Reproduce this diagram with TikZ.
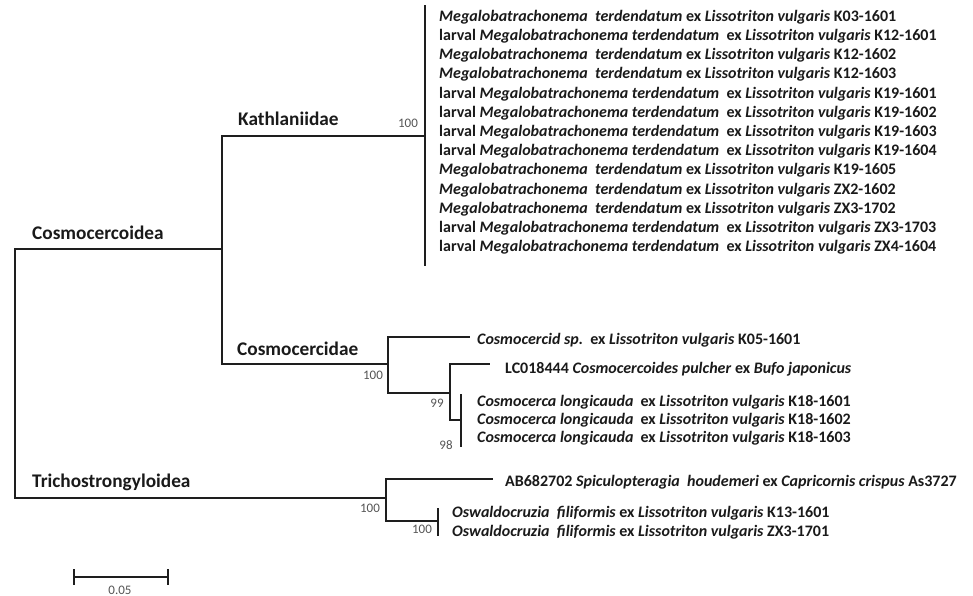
\documentclass[tikz,border=0pt]{standalone}
\usepackage{fontspec}
\setmainfont{Carlito}
\definecolor{linec}{HTML}{1E1E1E}
\definecolor{txtc}{HTML}{1A1A1A}
\definecolor{bootc}{HTML}{555555}
\newcommand\MegaLeaf[1]{\textit{Megalobatrachonema}\ \ \textit{terdendatum} ex \textit{Lissotriton vulgaris} #1}
\newcommand\LarvLeaf[1]{larval \textit{Megalobatrachonema} \textit{terdendatum}\ \ ex \textit{Lissotriton vulgaris} #1}
\newcommand\CosmoLeaf[1]{\textit{Cosmocerca longicauda}\ \ ex \textit{Lissotriton vulgaris} #1}
\newcommand\OswLeaf[1]{\textit{Oswaldocruzia}\ \ \textit{filiformis} ex \textit{Lissotriton vulgaris} #1}
\begin{document}
\begin{tikzpicture}[x=1pt,y=-1pt,
  br/.style={line width=1.8pt, draw=linec, line cap=rect},
  leaf/.style={anchor=west, inner sep=0pt, text=txtc, font=\fontsize{16}{19}\selectfont\bfseries},
  grp/.style={anchor=west, inner sep=0pt, text=txtc, font=\fontsize{19.3}{23}\selectfont\bfseries},
  boot/.style={inner sep=0pt, text=bootc, font=\fontsize{13}{15}\selectfont}]
\useasboundingbox (0,0) rectangle (973,596);
\fill[white] (0,0) rectangle (973,596);

% internal node coordinates
\coordinate (root) at (15,373);
\coordinate (cosmo) at (222,249);
\coordinate (kath) at (425,136);
\coordinate (kathT) at (425,6);
\coordinate (kathB) at (425,265);
\coordinate (cerc) at (388,364);
\coordinate (csp) at (469,337);
\coordinate (inner) at (450,393);
\coordinate (lc) at (489,364);
\coordinate (cl) at (461,420);
\coordinate (clT) at (461,395);
\coordinate (clB) at (461,446);
\coordinate (tricho) at (386,498);
\coordinate (ab) at (492,479);
\coordinate (osw) at (438,521);
\coordinate (oswT) at (438,509);
\coordinate (oswB) at (438,535);

% branches
\draw[br] (root) |- (cosmo);
\draw[br] (root) |- (tricho);
\draw[br] (cosmo) |- (kath);
\draw[br] (cosmo) |- (cerc);
\draw[br] (kathT) -- (kathB);
\draw[br] (cerc) |- (csp);
\draw[br] (cerc) |- (inner);
\draw[br] (inner) |- (lc);
\draw[br] (inner) |- (cl);
\draw[br] (clT) -- (clB);
\draw[br] (tricho) |- (ab);
\draw[br] (tricho) |- (osw);
\draw[br] (oswT) -- (oswB);

% group labels
\node[grp] (gCosmo) at (32,233) {Cosmocercoidea};
\node[grp] (gKath) at (238,119) {Kathlaniidae};
\node[grp] (gCerc) at (237,349) {Cosmocercidae};
\node[grp] (gTri) at (32,482) {Trichostrongyloidea};

% bootstrap values
\node[boot] (b1) at (408,123) {100};
\node[boot] (b2) at (373,375) {100};
\node[boot] (b3) at (437,403) {99};
\node[boot] (b4) at (446,445) {98};
\node[boot] (b5) at (370,508) {100};
\node[boot] (b6) at (422,529) {100};

% Kathlaniidae leaves
\node[leaf] (k1) at (439,17.0) {\MegaLeaf{K03-1601}};
\node[leaf] (k2) at (439,36.2) {\LarvLeaf{K12-1601}};
\node[leaf] (k3) at (439,55.4) {\MegaLeaf{K12-1602}};
\node[leaf] (k4) at (439,74.6) {\MegaLeaf{K12-1603}};
\node[leaf] (k5) at (439,93.8) {\LarvLeaf{K19-1601}};
\node[leaf] (k6) at (439,113.0) {\LarvLeaf{K19-1602}};
\node[leaf] (k7) at (439,132.2) {\LarvLeaf{K19-1603}};
\node[leaf] (k8) at (439,151.4) {\LarvLeaf{K19-1604}};
\node[leaf] (k9) at (439,170.6) {\MegaLeaf{K19-1605}};
\node[leaf] (k10) at (439,189.8) {\MegaLeaf{ZX2-1602}};
\node[leaf] (k11) at (439,209.0) {\MegaLeaf{ZX3-1702}};
\node[leaf] (k12) at (439,228.2) {\LarvLeaf{ZX3-1703}};
\node[leaf] (k13) at (439,247.4) {\LarvLeaf{ZX4-1604}};

% Cosmocercidae leaves
\node[leaf] (c1) at (477,340) {\textit{Cosmocercid sp.}\ \ ex \textit{Lissotriton vulgaris} K05-1601};
\node[leaf] (c2) at (505,369) {LC018444 \textit{Cosmocercoides pulcher} ex \textit{Bufo japonicus}};
\node[leaf] (c3) at (477,402) {\CosmoLeaf{K18-1601}};
\node[leaf] (c4) at (477,420) {\CosmoLeaf{K18-1602}};
\node[leaf] (c5) at (477,438) {\CosmoLeaf{K18-1603}};

% Trichostrongyloidea leaves
\node[leaf] (t1) at (505,482) {AB682702 \textit{Spiculopteragia}\ \ \textit{houdemeri} ex \textit{Capricornis crispus} As3727};
\node[leaf] (t2) at (452,513) {\OswLeaf{K13-1601}};
\node[leaf] (t3) at (452,532) {\OswLeaf{ZX3-1701}};

% scale bar
\coordinate (sbL) at (74,577);
\coordinate (sbR) at (168,577);
\draw[br] (sbL) -- (sbR);
\draw[br] ([yshift=-7pt]sbL) -- ([yshift=7pt]sbL);
\draw[br] ([yshift=-7pt]sbR) -- ([yshift=7pt]sbR);
\node[boot] (sbt) at (120,590) {0.05};
\end{tikzpicture}
\end{document}
